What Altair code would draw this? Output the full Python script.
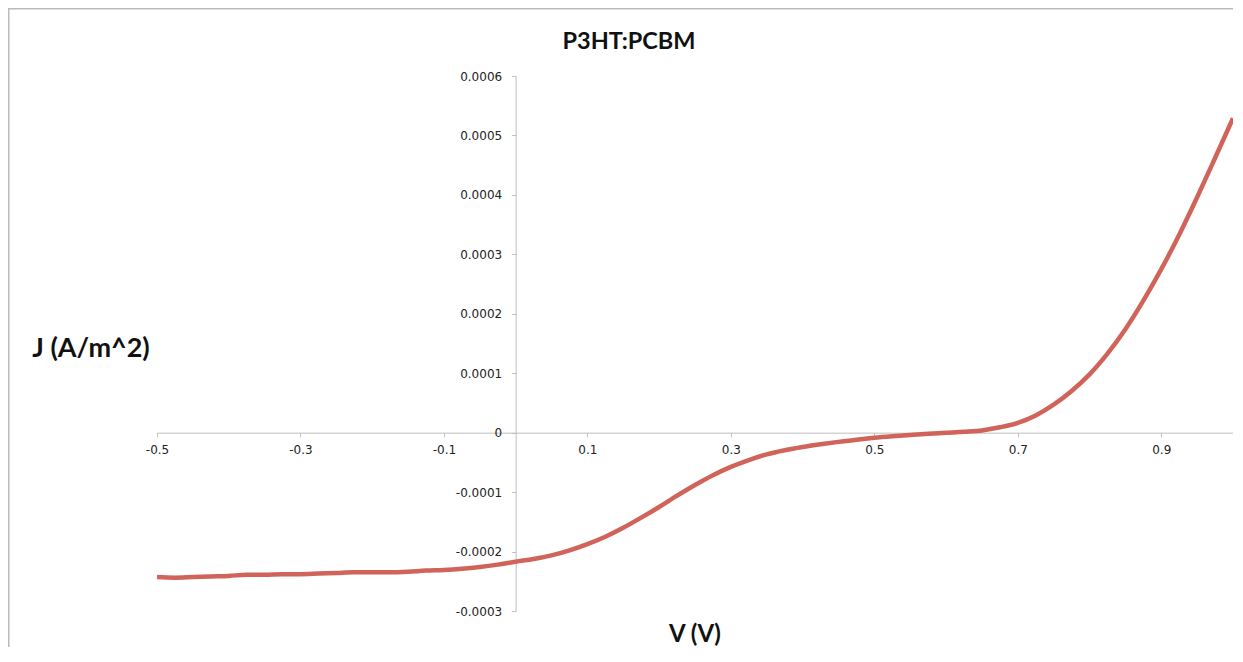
import altair as alt
import pandas as pd

# Voltage (V) and current density J (A/m^2)
voltage = [-0.5, -0.475, -0.45, -0.425, -0.4, -0.375, -0.35, -0.325, -0.3, -0.275,
           -0.25, -0.225, -0.2, -0.175, -0.15, -0.125, -0.1, -0.075, -0.05, -0.025,
           0.0, 0.025, 0.05, 0.075, 0.1, 0.125, 0.15, 0.175, 0.2, 0.225,
           0.25, 0.275, 0.3, 0.325, 0.35, 0.375, 0.4, 0.425, 0.45, 0.475,
           0.5, 0.525, 0.55, 0.575, 0.6, 0.625, 0.65, 0.675, 0.7, 0.725,
           0.75, 0.775, 0.8, 0.825, 0.85, 0.875, 0.9, 0.925, 0.95, 0.975, 1.0]
current = [-0.000243, -0.000244, -0.000243, -0.000242, -0.000241, -0.000239, -0.000239, -0.000238, -0.000238, -0.000237,
           -0.000236, -0.000235, -0.000235, -0.000235, -0.000234, -0.000232, -0.000231, -0.000229, -0.000226, -0.000222,
           -0.000217, -0.0002125, -0.0002065, -0.000198, -0.0001875, -0.000175, -0.000160, -0.000143, -0.000125, -0.000106,
           -0.000088, -0.0000715, -0.0000575, -0.000046, -0.0000365, -0.0000295, -0.000024, -0.0000195, -0.0000155, -0.0000118,
           -0.0000087, -0.0000062, -0.000004, -0.000002, -0.0000003, 0.0000015, 0.0000038, 0.000009, 0.0000165, 0.000029,
           0.000047, 0.000070, 0.000098, 0.000133, 0.000174, 0.000222, 0.000275, 0.000333, 0.000396, 0.000462, 0.000529]

x_ticks = [-0.5, -0.3, -0.1, 0.1, 0.3, 0.5, 0.7, 0.9]
y_ticks = [-0.0003, -0.0002, -0.0001, 0.0, 0.0001, 0.0002, 0.0003, 0.0004, 0.0005, 0.0006]

chart_title = "P3HT:PCBM"
x_title = "V (V)"
y_title = "J (A/m^2)"

df = pd.DataFrame({"V": voltage, "J": current})

W, H = 1076, 535
PAD_L, PAD_T, PAD_R, PAD_B = 149, 68, 0, 36
axis_col = "#BEBEBE"
label_font = "DejaVu Sans"

line = alt.Chart(df).mark_line(color="#D0635A", strokeWidth=4.5, interpolate="monotone").encode(
    x=alt.X("V:Q", scale=alt.Scale(domain=[-0.5, 1.0], nice=False, zero=False),
            axis=alt.Axis(values=x_ticks, title=None, grid=False,
                          labelExpr="replace(format(datum.value, '.1f'), '\u2212', '-')",
                          offset=-H * 3 / 9, domainColor=axis_col, tickColor=axis_col,
                          tickSize=4, labelPadding=8, labelFont=label_font, labelFontSize=12,
                          labelColor="#222222", labelFlush=False, labelOverlap=False)),
    y=alt.Y("J:Q", scale=alt.Scale(domain=[-0.0003, 0.0006], nice=False, zero=False),
            axis=alt.Axis(values=y_ticks, title=None, grid=False,
                          labelExpr="abs(datum.value) < 1e-9 ? '0' : replace(format(datum.value, '.4f'), '\u2212', '-')",
                          offset=-W * 0.5 / 1.5, domainColor=axis_col, tickColor=axis_col,
                          tickSize=4, labelPadding=10, labelFont=label_font, labelFontSize=12,
                          labelColor="#222222", labelFlush=False, labelOverlap=False)),
)

one = alt.Data(values=[{"k": 1}])

top_border = alt.Chart(one).mark_rule(stroke="#BBBBBB", strokeWidth=1.5).encode(
    x=alt.value(-PAD_L), x2=alt.value(W + PAD_R), y=alt.value(-PAD_T + 0.75))
left_border = alt.Chart(one).mark_rule(stroke="#BBBBBB", strokeWidth=1.5).encode(
    x=alt.value(-PAD_L + 0.75), y=alt.value(-PAD_T), y2=alt.value(H + PAD_B))

title_txt = alt.Chart(one).mark_text(font="Lato", fontWeight="bold", fontSize=23.5,
                                     color="#111111", align="center", baseline="middle").encode(
    x=alt.value(472), y=alt.value(-34), text=alt.value(chart_title))

ytitle_txt = alt.Chart(one).mark_text(font="Lato", fontWeight="bold", fontSize=27,
                                      color="#111111", align="center", baseline="middle").encode(
    x=alt.value(-66), y=alt.value(273), text=alt.value(y_title))

xtitle_txt = alt.Chart(one).mark_text(font="Lato", fontWeight="bold", fontSize=24,
                                      color="#111111", align="center", baseline="middle").encode(
    x=alt.value(W / 2), y=alt.value(559), text=alt.value(x_title))

chart = alt.layer(top_border, left_border, line, title_txt, ytitle_txt, xtitle_txt).properties(
    width=W, height=H,
    padding={"left": PAD_L, "top": PAD_T, "right": PAD_R, "bottom": PAD_B},
    autosize=alt.AutoSizeParams(type="none"),
).configure_view(stroke=None)

chart.save("out.html", embed_options={"renderer": "svg", "actions": False})
